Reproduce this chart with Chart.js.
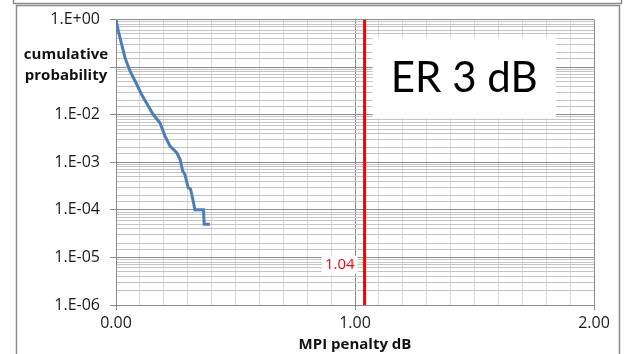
<!DOCTYPE html>
<html>
<head>
<meta charset="utf-8">
<script src="https://cdn.jsdelivr.net/npm/chart.js@4.4.1/dist/chart.umd.min.js"></script>
<style>
  html, body { margin: 0; padding: 0; background: #fff; }
  canvas { display: block; }
</style>
</head>
<body>
<canvas id="myChart" width="625" height="354"></canvas>
<script>
// data //
const penalty = [0, 0.010, 0.024, 0.038, 0.059, 0.087, 0.107, 0.135, 0.155, 0.184, 0.205, 0.226,
                 0.254, 0.268, 0.279, 0.288, 0.302, 0.312, 0.323, 0.330, 0.366, 0.369, 0.393];
const probability = [1, 0.569, 0.299, 0.156, 0.0823, 0.0433, 0.0267, 0.0152, 0.0102, 0.00678, 0.00356, 0.0022,
                     0.00159, 0.00116, 0.000657, 0.00056, 0.000293, 0.000272, 0.000154, 0.0001, 0.0001, 0.00005, 0.00005];
const threshold = 1.04;
const thresholdLabel = '1.04';
const boxText = 'ER 3 dB';

const yTickValues = [1, 1e-2, 1e-3, 1e-4, 1e-5, 1e-6];
const yTickLabels = ['1.E+00', '1.E-02', '1.E-03', '1.E-04', '1.E-05', '1.E-06'];
const xTickValues = [0, 1, 2];
const xTickLabels = ['0.00', '1.00', '2.00'];
const yTitle = ['cumulative', 'probability'];
const xTitle = 'MPI penalty dB';

const FONT = '"Open Sans", Lato, sans-serif';
const BIGFONT = 'Lato, "Open Sans", sans-serif';

function isDecade(v) {
    const l = Math.log10(v);
    return Math.abs(l - Math.round(l)) < 1e-6;
}
function isWhole(v) {
    return Math.abs(v - Math.round(v)) < 1e-6;
}

// frame + text boxes //
const extras = {
    id: 'extras',
    beforeDraw(chart) {
        const c = chart.ctx;
        c.save();
        c.fillStyle = '#fff';
        c.fillRect(0, 0, chart.width, chart.height);
        c.strokeStyle = '#8c8c8c';
        c.lineWidth = 1.5;
        c.beginPath();
        c.moveTo(13.5, 0); c.lineTo(13.5, 3.5); c.lineTo(621.5, 3.5); c.lineTo(621.5, 0);
        c.stroke();
        c.strokeRect(16.5, 5.5, 603, 360);
        c.restore();
    },
    afterDatasetsDraw(chart) {
        const c = chart.ctx;
        const x = chart.scales.x, y = chart.scales.y;
        const a = chart.chartArea;
        c.save();

        // threshold label
        c.font = '15px ' + FONT;
        const tx = x.getPixelForValue(threshold) - 10;
        const ty = y.getPixelForValue(7e-6);
        const tw = c.measureText(thresholdLabel).width;
        c.fillStyle = '#fff';
        c.fillRect(tx - tw - 3, ty - 9, tw + 6, 18);
        c.fillStyle = '#ff0000';
        c.textAlign = 'right';
        c.textBaseline = 'middle';
        c.fillText(thresholdLabel, tx, ty);

        // ER box
        const bx = a.left + (a.right - a.left) * 0.537;
        const bw = (a.right - a.left) * 0.383;
        const by = 38, bh = 80;
        c.fillStyle = '#fff';
        c.fillRect(bx, by, bw, bh);
        c.fillStyle = '#000';
        c.font = '42px ' + BIGFONT;
        c.textAlign = 'center';
        c.fillText(boxText, bx + bw / 2, by + bh / 2);

        // y title, horizontal
        c.font = 'bold 15px ' + FONT;
        c.fillStyle = '#111';
        c.textAlign = 'center';
        c.fillText(yTitle[0], 66, 55);
        c.fillText(yTitle[1], 66, 76);
        c.restore();
    }
};

const ctx = document.getElementById('myChart');

new Chart(ctx, {
    type: 'scatter',
    data: {
        datasets: [{
            label: 'cdf',
            data: penalty.map((p, i) => ({ x: p, y: probability[i] })),
            showLine: true,
            borderColor: '#4a7ebb',
            borderWidth: 3,
            pointRadius: 0,
            tension: 0
        }, {
            label: 'limit',
            data: [{ x: threshold, y: 1 }, { x: threshold, y: 1e-6 }],
            showLine: true,
            borderColor: '#ff0000',
            borderWidth: 3,
            pointRadius: 0
        }]
    },
    options: {
        responsive: false,
        animation: false,
        devicePixelRatio: 1,
        layout: { padding: { top: 18, right: 31, left: 0, bottom: 0 } },
        plugins: {
            legend: { display: false },
            tooltip: { enabled: false }
        },
        scales: {
            x: {
                type: 'linear',
                min: 0,
                max: 2,
                afterFit: s => { s.height = 49; },
                ticks: {
                    stepSize: 0.1,
                    autoSkip: false,
                    maxRotation: 0,
                    padding: 4,
                    color: '#1a1a1a',
                    font: { family: FONT, size: 16 },
                    callback: v => {
                        const i = xTickValues.findIndex(t => Math.abs(t - v) < 1e-6);
                        return i >= 0 ? xTickLabels[i] : '';
                    }
                },
                grid: {
                    drawTicks: true,
                    tickLength: 5,
                    color: c => (c.tick && isWhole(c.tick.value)) ? '#8c8c8c' : '#d9d9d9',
                    tickColor: c => (c.tick && isWhole(c.tick.value)) ? '#8c8c8c' : 'rgba(0,0,0,0)'
                },
                border: { color: '#8c8c8c', width: 1 },
                title: {
                    display: true,
                    text: xTitle,
                    color: '#111',
                    font: { family: FONT, size: 15, weight: 'bold' },
                    padding: { top: 0, bottom: 0 }
                }
            },
            y: {
                type: 'logarithmic',
                min: 1e-6,
                max: 1,
                afterFit: s => { s.width = 116; },
                ticks: {
                    autoSkip: false,
                    padding: 10,
                    color: '#1a1a1a',
                    font: { family: FONT, size: 16 },
                    callback: v => {
                        const i = yTickValues.findIndex(t => Math.abs(Math.log10(t) - Math.log10(v)) < 1e-6);
                        return i >= 0 ? yTickLabels[i] : '';
                    }
                },
                grid: {
                    drawTicks: true,
                    tickLength: 6,
                    color: c => (c.tick && isDecade(c.tick.value)) ? '#8c8c8c' : '#c4c4c4',
                    tickColor: c => (c.tick && isDecade(c.tick.value)) ? '#8c8c8c' : 'rgba(0,0,0,0)'
                },
                border: { color: '#8c8c8c', width: 1 }
            }
        }
    },
    plugins: [extras]
});
</script>
</body>
</html>
